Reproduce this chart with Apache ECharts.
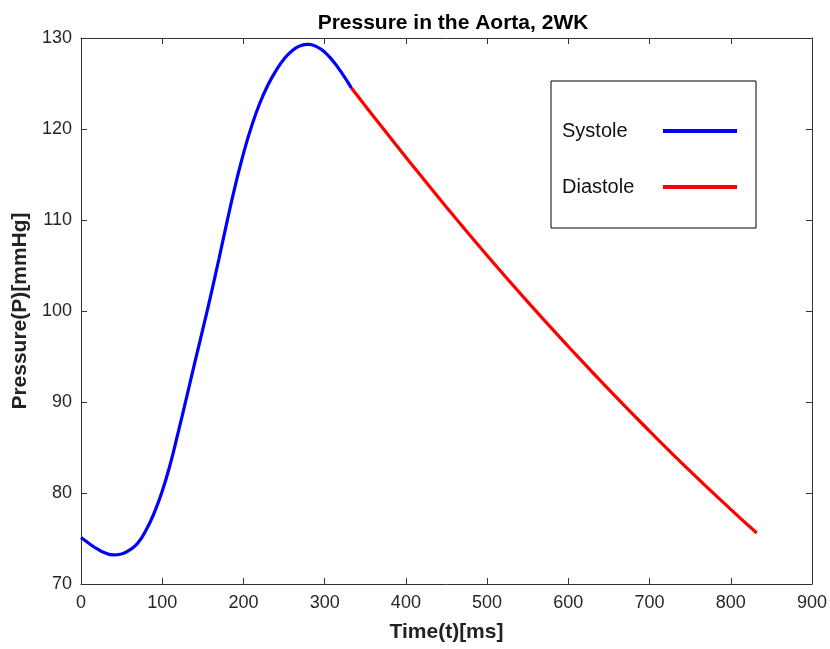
<!DOCTYPE html>
<html>
<head>
<meta charset="utf-8">
<script src="https://cdn.jsdelivr.net/npm/echarts@6/dist/echarts.min.js"></script>
<style>html,body{margin:0;padding:0;background:#fff;}#c{width:830px;height:649px;}</style>
</head>
<body>
<div id="c"></div>
<script>
const titleText = 'Pressure in the Aorta, 2WK';
const xAxisName = 'Time(t)[ms]';
const yAxisName = 'Pressure(P)[mmHg]';
const seriesNames = ['Systole', 'Diastole'];

const systoleTime = [0, 10, 20, 30, 40, 50, 60, 70, 80, 90, 100, 110, 120, 130, 140, 150, 160, 170, 180, 190, 200, 210, 220, 230, 240, 250, 260, 270, 280, 290, 300, 310, 320, 333];
const systolePressure = [75.1, 74.45, 73.85, 73.4, 73.2, 73.3, 73.75, 74.5, 75.9, 77.8, 80.2, 83.2, 86.8, 90.5, 94.3, 98.0, 101.8, 105.8, 109.9, 113.8, 117.3, 120.3, 122.8, 124.8, 126.4, 127.7, 128.6, 129.15, 129.3, 129.05, 128.45, 127.5, 126.3, 124.5];

const diastoleTime = [333, 360, 400, 450, 500, 550, 600, 650, 700, 750, 800, 832];
const diastolePressure = [124.5, 121.4, 116.9, 111.4, 106.1, 101.0, 96.1, 91.35, 86.8, 82.4, 78.2, 75.6];

const xMin = 0, xMax = 900, xStep = 100;
const yMin = 70, yMax = 130, yStep = 10;

const pairs = (xs, ys) => xs.map((x, i) => [x, ys[i]]);

const font = '"Liberation Sans", Arial, Helvetica, sans-serif';
const axisColor = '#333333';

const chart = echarts.init(document.getElementById('c'), null, {renderer: 'canvas'});
chart.setOption({
  backgroundColor: '#ffffff',
  animation: false,
  title: {
    text: titleText,
    left: 448,
    top: 8,
    textAlign: 'center',
    textStyle: {fontFamily: font, fontSize: 21, fontWeight: 'bold', color: '#000'}
  },
  grid: {left: 81, right: 15, top: 38, bottom: 65, containLabel: false},
  legend: {
    data: seriesNames,
    orient: 'vertical',
    align: 'right',
    left: 551,
    top: 81,
    padding: [38, 19, 29, 11],
    itemGap: 32,
    itemWidth: 74,
    itemHeight: 4,
    icon: 'rect',
    borderColor: '#000',
    borderWidth: 1,
    backgroundColor: '#fff',
    formatter: '{a|{name}}',
    textStyle: {
      fontFamily: font, fontSize: 20, color: '#111', lineHeight: 24,
      rich: {a: {width: 96, align: 'left', fontFamily: font, fontSize: 20, lineHeight: 24, color: '#111'}}
    }
  },
  xAxis: [{
    type: 'value', min: xMin, max: xMax, interval: xStep, position: 'bottom',
    name: xAxisName, nameLocation: 'middle', nameGap: 38,
    nameTextStyle: {fontFamily: font, fontSize: 21, fontWeight: 'bold', color: '#222'},
    axisLine: {show: true, onZero: false, lineStyle: {color: axisColor, width: 1}},
    axisTick: {show: true, inside: true, length: 6, lineStyle: {color: axisColor}},
    axisLabel: {fontFamily: font, fontSize: 18, color: '#262626', margin: 10},
    splitLine: {show: false}
  }, {
    type: 'value', min: xMin, max: xMax, interval: xStep, position: 'top',
    axisLine: {show: true, onZero: false, lineStyle: {color: axisColor, width: 1}},
    axisTick: {show: true, inside: true, length: 6, lineStyle: {color: axisColor}},
    axisLabel: {show: false},
    splitLine: {show: false}
  }],
  yAxis: [{
    type: 'value', min: yMin, max: yMax, interval: yStep, position: 'left',
    name: yAxisName, nameLocation: 'middle', nameGap: 50,
    nameTextStyle: {fontFamily: font, fontSize: 21, fontWeight: 'bold', color: '#222'},
    axisLine: {show: true, onZero: false, lineStyle: {color: axisColor, width: 1}},
    axisTick: {show: true, inside: true, length: 6, lineStyle: {color: axisColor}},
    axisLabel: {fontFamily: font, fontSize: 18, color: '#262626', margin: 9},
    splitLine: {show: false}
  }, {
    type: 'value', min: yMin, max: yMax, interval: yStep, position: 'right',
    axisLine: {show: true, onZero: false, lineStyle: {color: axisColor, width: 1}},
    axisTick: {show: true, inside: true, length: 6, lineStyle: {color: axisColor}},
    axisLabel: {show: false},
    splitLine: {show: false}
  }],
  series: [{
    name: seriesNames[0], type: 'line', xAxisIndex: 0, yAxisIndex: 0,
    data: pairs(systoleTime, systolePressure),
    smooth: 0.5, showSymbol: false, symbol: 'none',
    color: '#0000ff',
    lineStyle: {color: '#0000ff', width: 3.2}
  }, {
    name: seriesNames[1], type: 'line', xAxisIndex: 0, yAxisIndex: 0,
    data: pairs(diastoleTime, diastolePressure),
    smooth: 0.5, showSymbol: false, symbol: 'none',
    color: '#ff0000',
    lineStyle: {color: '#ff0000', width: 3.2}
  }]
});
</script>
</body>
</html>
